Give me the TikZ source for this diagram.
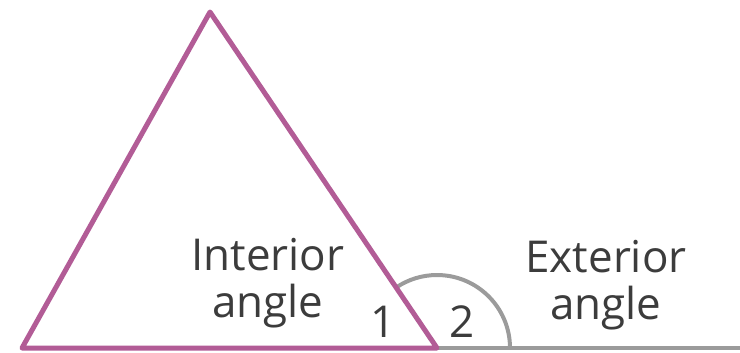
\documentclass[tikz,border=0pt]{standalone}
\usepackage{fontspec}
\setsansfont{Open Sans}
\usepackage{tikz}
\usetikzlibrary{positioning, calc}
\definecolor{mypink}{RGB}{178,92,150}
\definecolor{mygrey}{RGB}{155,155,155}
\definecolor{mytext}{RGB}{60,60,60}
\tikzset{
  side/.style={draw=mypink, line width=1mm, line join=round, line cap=round},
  ground/.style={draw=mygrey, line width=0.8mm},
  anglearc/.style={draw=mygrey, line width=0.8mm},
  lbl/.style={text=mytext, font=\sffamily\fontsize{25}{27}\selectfont,
    align=center, inner sep=0pt},
  num/.style={text=mytext, font=\sffamily\fontsize{25}{27}\selectfont, inner sep=0pt}
}
\begin{document}
\begin{tikzpicture}[x=0.2mm, y=-0.2mm]
  \useasboundingbox (0,0) rectangle (740,352);
  \coordinate (top) at (210,12);
  \coordinate (bl) at (22,348);
  \coordinate (br) at (437,348);
  \coordinate (far) at (740,348);

  % exterior angle
  \draw[anglearc] ($(br)+(73,0)$) arc[start angle=0, end angle=124, radius=14.6mm];
  \draw[ground] (br) -- (far);

  % triangle
  \draw[side] (top) -- (bl) -- (br) -- cycle;

  \node[lbl] (inner) at (268,283) {Interior\\angle};
  \node[lbl] (outer) at (606,285) {Exterior\\angle};
  \node[num] (one) at (383,322) {1};
  \node[num] (two) at (462,322) {2};
\end{tikzpicture}
\end{document}
